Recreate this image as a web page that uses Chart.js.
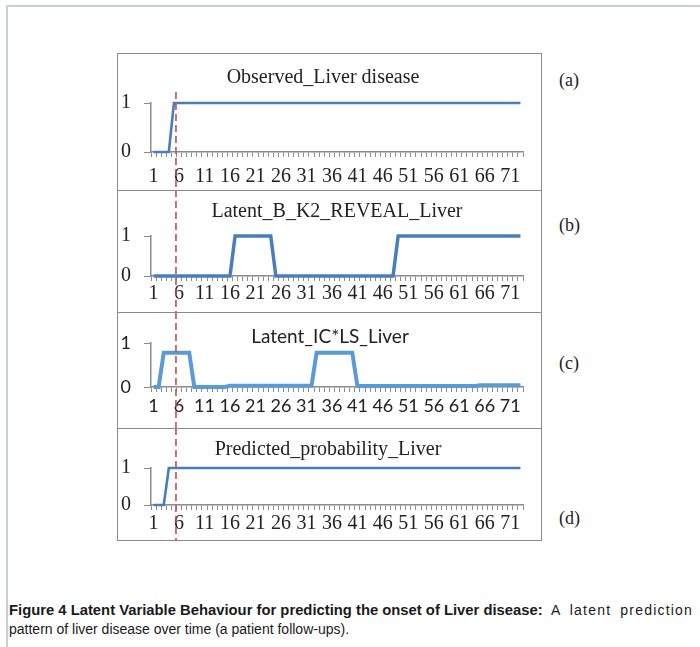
<!DOCTYPE html>
<html><head><meta charset="utf-8">
<script src="https://cdn.jsdelivr.net/npm/chart.js@4.4.0/dist/chart.umd.min.js"></script>
<style>
html,body{margin:0;padding:0;background:#fff;width:700px;height:647px;overflow:hidden;position:relative;}
#frame{position:absolute;left:6px;top:5px;width:760px;height:700px;border:2px solid #c9cdd6;box-sizing:border-box;}
canvas.pc{position:absolute;left:117px;}
.pborder{position:absolute;left:117px;width:425px;border:1.5px solid #8a8a8a;box-sizing:border-box;pointer-events:none;}
.plabel{position:absolute;left:559px;font-family:"Liberation Serif",serif;font-size:18px;color:#222;line-height:20px;}
#caption{position:absolute;left:9px;top:601px;font-family:"Liberation Sans",sans-serif;font-size:14px;line-height:19px;color:#1a1a1a;white-space:nowrap;}
#caption b{font-weight:bold;font-size:14.8px;}
#caption .wide{letter-spacing:1.2px;word-spacing:4px;}
</style></head>
<body>
<div id="frame"></div>
<canvas class="pc" id="ca" width="425" height="137" style="top:53px"></canvas>
<canvas class="pc" id="cb" width="425" height="122" style="top:190px"></canvas>
<canvas class="pc" id="cc" width="425" height="116" style="top:312px"></canvas>
<canvas class="pc" id="cd" width="425" height="113" style="top:428px"></canvas>
<div class="pborder" style="top:53px;height:138px"></div>
<div class="pborder" style="top:190px;height:123px"></div>
<div class="pborder" style="top:312px;height:117px"></div>
<div class="pborder" style="top:428px;height:113px"></div>
<div class="plabel" style="top:70px">(a)</div>
<div class="plabel" style="top:215px">(b)</div>
<div class="plabel" style="top:353px">(c)</div>
<div class="plabel" style="top:508px">(d)</div>
<div id="caption"><b>Figure 4 Latent Variable Behaviour for predicting the onset of Liver disease:</b><span class="wide"> A latent prediction</span><br>pattern of liver disease over time (a patient follow-ups).</div>
<script>
// ---- data ----
const categories = ["1","2","3","4","5","6","7","8","9","10","11","12","13","14","15","16","17","18","19","20",
  "21","22","23","24","25","26","27","28","29","30","31","32","33","34","35","36","37","38","39","40",
  "41","42","43","44","45","46","47","48","49","50","51","52","53","54","55","56","57","58","59","60",
  "61","62","63","64","65","66","67","68","69","70","71","72","73"];
const tickLabels = ["1","6","11","16","21","26","31","36","41","46","51","56","61","66","71"];
const yTicks = [0, 1];
const observedLiver = [0,0,0,0,1,1,1,1,1,1, 1,1,1,1,1,1,1,1,1,1, 1,1,1,1,1,1,1,1,1,1,
  1,1,1,1,1,1,1,1,1,1, 1,1,1,1,1,1,1,1,1,1, 1,1,1,1,1,1,1,1,1,1, 1,1,1,1,1,1,1,1,1,1, 1,1,1];
const latentB_K2_REVEAL = [0,0,0,0,0,0,0,0,0,0, 0,0,0,0,0,0,1,1,1,1, 1,1,1,1,0,0,0,0,0,0,
  0,0,0,0,0,0,0,0,0,0, 0,0,0,0,0,0,0,0,1,1, 1,1,1,1,1,1,1,1,1,1, 1,1,1,1,1,1,1,1,1,1, 1,1,1];
const latentIC_LS = [0,0,0.78,0.78,0.78,0.78,0.78,0.78,0,0, 0,0,0,0,0,0.03,0.03,0.03,0.03,0.03,
  0.03,0.03,0.03,0.03,0.03,0.03,0.03,0.03,0.03,0.03, 0.03,0.03,0.78,0.78,0.78,0.78,0.78,0.78,0.78,0.78,
  0.02,0.02,0.02,0.02,0.02,0.02,0.02,0.02,0.02,0.02, 0.02,0.02,0.02,0.02,0.02,0.02,0.02,0.02,0.02,0.02,
  0.02,0.02,0.02,0.02,0.04,0.04,0.04,0.04,0.04,0.04, 0.04,0.04,0.04];
const predictedProb = [0,0,0,1,1,1,1,1,1,1, 1,1,1,1,1,1,1,1,1,1, 1,1,1,1,1,1,1,1,1,1,
  1,1,1,1,1,1,1,1,1,1, 1,1,1,1,1,1,1,1,1,1, 1,1,1,1,1,1,1,1,1,1, 1,1,1,1,1,1,1,1,1,1, 1,1,1];
const onsetMarker = 5.4; // follow-up position of the dashed onset line

const SERIF = '"Liberation Serif", "Times New Roman", serif';
const SANS = 'Lato, "Open Sans", sans-serif';

const onsetLine = {
  id: 'onsetLine',
  afterDatasetsDraw(chart, args, opts) {
    const ctx = chart.ctx;
    const x = chart.scales.x.getPixelForValue(onsetMarker - 1);
    const top = opts.fromTitle ? chart.chartArea.top - opts.fromTitle : 0;
    ctx.save();
    ctx.strokeStyle = '#C0504D';
    ctx.lineWidth = 1.6;
    ctx.setLineDash([7, 4]);
    ctx.beginPath();
    ctx.moveTo(x, top);
    ctx.lineTo(x, chart.height);
    ctx.stroke();
    ctx.restore();
  }
};
const panelTitle = {
  id: 'panelTitle',
  afterDraw(chart, args, opts) {
    const ctx = chart.ctx;
    const ca = chart.chartArea;
    ctx.save();
    ctx.font = opts.font;
    ctx.fillStyle = '#222';
    ctx.textAlign = 'center';
    ctx.textBaseline = 'middle';
    ctx.fillText(opts.text, (ca.left + ca.right) / 2 + opts.dx, opts.y);
    ctx.restore();
  }
};

function makePanel(id, cfg) {
  new Chart(document.getElementById(id), {
    type: 'line',
    data: {
      labels: categories,
      datasets: [{
        data: cfg.values,
        borderColor: cfg.color,
        borderWidth: cfg.width,
        pointRadius: 0,
        tension: 0,
        fill: false,
        clip: false
      }]
    },
    options: {
      responsive: false,
      animation: false,
      events: [],
      layout: { padding: { left: 0, right: 19, top: cfg.top, bottom: 0 } },
      plugins: {
        legend: { display: false },
        tooltip: { enabled: false },
        title: { display: false },
        onsetLine: { fromTitle: cfg.dashFrom || 0 },
        panelTitle: { text: cfg.title, font: cfg.titleFont, y: cfg.titleY, dx: cfg.titleDx }
      },
      scales: {
        x: {
          type: 'category',
          offset: true,
          afterFit: s => { s.height = cfg.xh; },
          grid: { display: true, offset: true, drawOnChartArea: false, drawTicks: true, tickLength: 5, color: '#8c8c8c', lineWidth: 1 },
          border: { display: true, color: '#8c8c8c', width: 1.5 },
          ticks: {
            autoSkip: false, maxRotation: 0, minRotation: 0,
            padding: cfg.xpad,
            color: '#222',
            font: { family: cfg.fam, size: cfg.tickSize },
            callback: function(v, i) { const l = categories[i]; return tickLabels.includes(l) ? l : ''; }
          }
        },
        y: {
          min: 0, max: 1,
          afterFit: s => { s.width = 34; },
          afterBuildTicks: s => { s.ticks = yTicks.map(v => ({ value: v })); },
          grid: { display: true, drawOnChartArea: false, drawTicks: true, tickLength: 7, color: '#8c8c8c', lineWidth: 1 },
          border: { display: true, color: '#8c8c8c', width: 1.5 },
          ticks: { padding: 13, color: '#222', font: { family: cfg.fam, size: cfg.tickSize } }
        }
      }
    },
    plugins: [onsetLine, panelTitle]
  });
}

makePanel('ca', { values: observedLiver, color: '#4A7EBB', width: 2.6, top: 50, xh: 38, xpad: 8,
  fam: SERIF, tickSize: 20, title: 'Observed_Liver disease', titleFont: '20px ' + SERIF, titleY: 25, titleDx: -14, dashFrom: 11 });
makePanel('cb', { values: latentB_K2_REVEAL, color: '#4A7EBB', width: 3.5, top: 46, xh: 36, xpad: 1,
  fam: SERIF, tickSize: 20, title: 'Latent_B_K2_REVEAL_Liver', titleFont: '20px ' + SERIF, titleY: 22, titleDx: 0 });
makePanel('cc', { values: latentIC_LS, color: '#5B9BD5', width: 4, top: 31, xh: 41, xpad: 3,
  fam: SANS, tickSize: 18, title: 'Latent_IC*LS_Liver', titleFont: '19px ' + SANS, titleY: 25, titleDx: -7 });
makePanel('cd', { values: predictedProb, color: '#4A7EBB', width: 2.6, top: 40, xh: 36, xpad: 2,
  fam: SERIF, tickSize: 20, title: 'Predicted_probability_Liver', titleFont: '20px ' + SERIF, titleY: 22, titleDx: -9 });
</script>
</body></html>
